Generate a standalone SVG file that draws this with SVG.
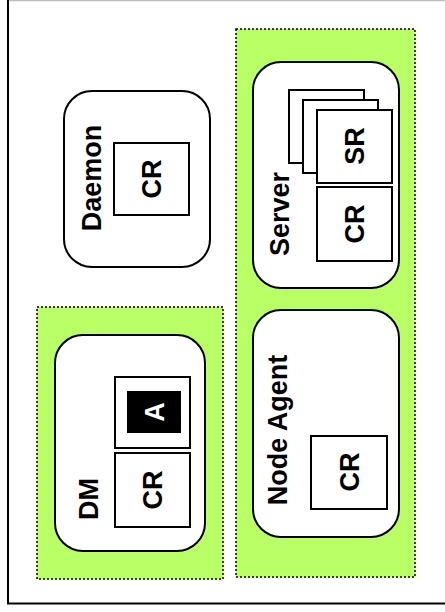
<svg xmlns="http://www.w3.org/2000/svg" width="445" height="612" viewBox="0 0 445 612">
  <style>
    .frame { fill: none; stroke: #000; stroke-width: 2; }
    .group { fill: #b9ff66; stroke: #000; stroke-width: 1.5; stroke-dasharray: 2 2; }
    .proc { fill: #fff; stroke: #000; stroke-width: 2; }
    .box { fill: #fff; stroke: #000; stroke-width: 2; }
    .lbl { font-family: "Liberation Sans", Arial, sans-serif; font-weight: bold; font-size: 27px; text-anchor: middle; fill: #000; }
    .inv { fill: #fff; }
  </style>

  <rect width="445" height="612" fill="#fff"/>

  <!-- page frame -->
  <g id="frame">
    <line x1="8" y1="0.5" x2="445" y2="0.5" stroke="#bdbdbd" stroke-width="1.5"/>
    <line x1="8" y1="0" x2="8" y2="604" stroke="#000" stroke-width="2"/>
    <line x1="7" y1="603.5" x2="445" y2="603.5" stroke="#000" stroke-width="2"/>
  </g>

  <!-- dotted green groupings -->
  <g id="group-dm">
    <rect class="group" x="37" y="307" width="186" height="272"/>
  </g>
  <g id="group-server">
    <rect class="group" x="236" y="29" width="179" height="548"/>
  </g>

  <g id="daemon">
    <rect class="proc" x="64" y="91" width="146" height="176" rx="28" ry="28"/>
    <text class="lbl" transform="translate(91,178) rotate(-90)" y="9.6">Daemon</text>
    <rect class="box" x="114" y="143" width="75" height="72"/>
    <text class="lbl" transform="translate(151,179) rotate(-90)" y="9.6">CR</text>
  </g>

  <g id="server">
    <rect class="proc" x="253" y="62" width="146" height="226" rx="28" ry="28"/>
    <text class="lbl" transform="translate(279,214) rotate(-90)" y="9.6">Server</text>
    <rect class="box" x="289" y="90" width="75" height="73"/>
    <rect class="box" x="303" y="100" width="75" height="73"/>
    <rect class="box" x="317" y="110" width="75" height="73"/>
    <text class="lbl" transform="translate(354,146) rotate(-90)" y="9.6">SR</text>
    <rect class="box" x="317" y="187" width="75" height="74"/>
    <text class="lbl" transform="translate(354,224) rotate(-90)" y="9.6">CR</text>
  </g>

  <g id="node-agent">
    <rect class="proc" x="253" y="310" width="146" height="227" rx="28" ry="28"/>
    <text class="lbl" transform="translate(277,430) rotate(-90)" y="9.6">Node Agent</text>
    <rect class="box" x="311" y="436" width="76" height="73"/>
    <text class="lbl" transform="translate(349,472) rotate(-90)" y="9.6">CR</text>
  </g>

  <g id="dm">
    <rect class="proc" x="55" y="335" width="150" height="216" rx="28" ry="28"/>
    <text class="lbl" transform="translate(88,499) rotate(-90)" y="9.6">DM</text>
    <rect class="box" x="115" y="377" width="75" height="71"/>
    <rect x="127" y="391" width="54" height="42" fill="#000"/>
    <text class="lbl inv" transform="translate(155,412) rotate(-90)" y="8.6" font-size="24">A</text>
    <rect class="box" x="115" y="453" width="75" height="74"/>
    <text class="lbl" transform="translate(152,490) rotate(-90)" y="9.6">CR</text>
  </g>

  <!-- no connectors in this diagram -->
  <g id="connectors"/>
</svg>
